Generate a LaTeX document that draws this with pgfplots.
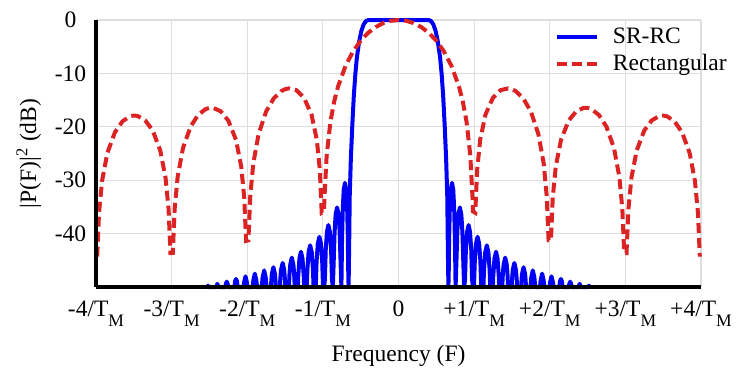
\documentclass[border=0pt]{standalone}
\usepackage{pgfplots}
\pgfplotsset{compat=1.18}
\usepackage{fontspec}
\setmainfont{Liberation Serif}
\definecolor{srblue}{RGB}{0,0,245}
\definecolor{rectred}{RGB}{220,35,35}
\definecolor{gridgray}{RGB}{222,222,222}
\pgfplotsset{
  /pgfplots/layers/mylayers/.define layer set={
    axis background,axis grid,main,axis ticks,axis lines,
    axis tick labels,axis descriptions,axis foreground
  }{/pgfplots/layers/standard},
}
\newcommand{\fs}{\fontsize{11.8}{14}\selectfont}
\newcommand{\TM}{T\raisebox{-5bp}{\fontsize{8.8}{10}\selectfont M}}
\begin{document}
\begin{tikzpicture}
\begin{axis}[
  name=ax,
  set layers=mylayers,
  scale only axis, width=302.5bp, height=133.5bp,
  xmin=-4, xmax=4, ymin=-50, ymax=0,
  clip=false,
  axis lines=left,
  axis line style={-, line width=1.6bp, black},
  grid=major,
  grid style={gridgray, line width=0.6bp},
  major tick length=0pt,
  xtick={-4,-3,-2,-1,0,1,2,3,4},
  xticklabels={{-4/\TM},{-3/\TM},{-2/\TM},{-1/\TM},{0},{+1/\TM},{+2/\TM},{+3/\TM},{+4/\TM}},
  ytick={-40,-30,-20,-10,0},
  yticklabels={-40,-30,-20,-10,0},
  tick label style={font=\fs},
  xticklabel style={yshift=-3.5bp},
  yticklabel style={anchor=center, xshift=-12.75bp},
  label style={font=\fs},
  xlabel style={yshift=-2.5bp},
  xlabel={Frequency (F)},
  ylabel={|P(F)|\textsuperscript{2} (dB)},
  legend style={draw=none, fill=none, at={(0.758,0.98)}, anchor=north west,
    font=\fs, inner sep=0pt, row sep=2bp, column sep=6bp, nodes={inner sep=1bp}},
  legend cell align=left,
  legend image code/.code={\draw[#1] (0bp,0bp) -- (20bp,0bp);},
]
\addplot[srblue, line width=2bp, line join=round] coordinates {
(-2.528,-50) (-2.519,-49.75) (-2.509,-50)
(-2.409,-50) (-2.395,-49.4) (-2.380,-50)
(-2.289,-50) (-2.283,-49.4) (-2.271,-49.0) (-2.259,-49.4) (-2.253,-50)
(-2.170,-50) (-2.160,-48.9) (-2.148,-48.5) (-2.136,-48.9) (-2.126,-50)
(-2.050,-50) (-2.045,-49.3) (-2.023,-48.0) (-2.002,-49.3) (-1.998,-50)
(-1.928,-50) (-1.920,-48.8) (-1.900,-47.5) (-1.879,-48.8) (-1.871,-50)
(-1.808,-50) (-1.797,-48.2) (-1.776,-46.9) (-1.756,-48.2) (-1.745,-50)
(-1.687,-50) (-1.675,-47.6) (-1.654,-46.3) (-1.633,-47.6) (-1.621,-50)
(-1.568,-50) (-1.563,-48.5) (-1.553,-46.8) (-1.532,-45.5) (-1.511,-46.8) (-1.502,-48.5) (-1.496,-50)
(-1.449,-50) (-1.441,-47.5) (-1.431,-45.8) (-1.411,-44.5) (-1.390,-45.8) (-1.380,-47.5) (-1.372,-50)
(-1.331,-50) (-1.326,-48.0) (-1.310,-44.7) (-1.290,-43.4) (-1.269,-44.7) (-1.253,-48.0) (-1.248,-50)
(-1.213,-50) (-1.205,-46.8) (-1.189,-43.5) (-1.168,-42.2) (-1.147,-43.5) (-1.131,-46.8) (-1.123,-50)
(-1.094,-50) (-1.083,-45.2) (-1.067,-41.9) (-1.046,-40.6) (-1.025,-41.9) (-1.009,-45.2) (-0.998,-50)
(-0.985,-50) (-0.973,-48.6) (-0.962,-43.0) (-0.946,-39.7) (-0.927,-38.4) (-0.907,-39.7) (-0.891,-43.0) (-0.880,-48.6)
(-0.868,-50) (-0.857,-45.3) (-0.845,-39.7) (-0.831,-36.4) (-0.812,-35.1) (-0.792,-36.4) (-0.778,-39.7) (-0.766,-45.3)
(-0.755,-50) (-0.746,-40.7) (-0.736,-35.1) (-0.724,-31.8) (-0.708,-30.5) (-0.691,-31.8) (-0.679,-35.1) (-0.670,-40.7) (-0.665,-46.6)
(-0.660,-50) (-0.652,-42.0) (-0.645,-33.0) (-0.630,-26.0) (-0.610,-19.5) (-0.590,-14.0) (-0.570,-10.0) (-0.550,-7.0) (-0.520,-4.0) (-0.490,-2.0) (-0.460,-0.8) (-0.430,-0.2) (-0.400,0)
(0.400,0) (0.430,-0.2) (0.460,-0.8) (0.490,-2.0) (0.520,-4.0) (0.550,-7.0) (0.570,-10.0) (0.590,-14.0) (0.610,-19.5) (0.630,-26.0) (0.645,-33.0) (0.652,-42.0) (0.660,-50)
(0.665,-46.6) (0.670,-40.7) (0.679,-35.1) (0.691,-31.8) (0.708,-30.5) (0.724,-31.8) (0.736,-35.1) (0.746,-40.7) (0.755,-50)
(0.766,-45.3) (0.778,-39.7) (0.792,-36.4) (0.812,-35.1) (0.831,-36.4) (0.845,-39.7) (0.857,-45.3) (0.868,-50)
(0.880,-48.6) (0.891,-43.0) (0.907,-39.7) (0.927,-38.4) (0.946,-39.7) (0.962,-43.0) (0.973,-48.6) (0.985,-50)
(0.998,-50) (1.009,-45.2) (1.025,-41.9) (1.046,-40.6) (1.067,-41.9) (1.083,-45.2) (1.094,-50)
(1.123,-50) (1.131,-46.8) (1.147,-43.5) (1.168,-42.2) (1.189,-43.5) (1.205,-46.8) (1.213,-50)
(1.248,-50) (1.253,-48.0) (1.269,-44.7) (1.290,-43.4) (1.310,-44.7) (1.326,-48.0) (1.331,-50)
(1.372,-50) (1.380,-47.5) (1.390,-45.8) (1.411,-44.5) (1.431,-45.8) (1.441,-47.5) (1.449,-50)
(1.496,-50) (1.502,-48.5) (1.511,-46.8) (1.532,-45.5) (1.553,-46.8) (1.563,-48.5) (1.568,-50)
(1.621,-50) (1.633,-47.6) (1.654,-46.3) (1.675,-47.6) (1.687,-50)
(1.745,-50) (1.756,-48.2) (1.776,-46.9) (1.797,-48.2) (1.808,-50)
(1.871,-50) (1.879,-48.8) (1.900,-47.5) (1.920,-48.8) (1.928,-50)
(1.998,-50) (2.002,-49.3) (2.023,-48.0) (2.045,-49.3) (2.050,-50)
(2.126,-50) (2.136,-48.9) (2.148,-48.5) (2.160,-48.9) (2.170,-50)
(2.253,-50) (2.259,-49.4) (2.271,-49.0) (2.283,-49.4) (2.289,-50)
(2.380,-50) (2.395,-49.4) (2.409,-50)
(2.509,-50) (2.519,-49.75) (2.528,-50)
};
\addlegendentry{SR-RC}
\addplot[rectred, line width=2bp, dash pattern=on 5bp off 2.5bp] coordinates {
(-3.9845,-44.32) (-3.96,-36.10) (-3.92,-30.15) (-3.85,-24.91) (-3.75,-21.03) (-3.65,-18.98) (-3.55,-18.03) (-3.5,-17.89) (-3.45,-17.97) (-3.35,-18.78) (-3.25,-20.69) (-3.15,-24.43) (-3.08,-29.57) (-3.04,-35.47) (-3.0155,-43.65)
(-2.9845,-43.61) (-2.96,-35.36) (-2.92,-29.34) (-2.85,-24.00) (-2.75,-19.98) (-2.65,-17.78) (-2.55,-16.68) (-2.5,-16.46) (-2.45,-16.45) (-2.35,-17.10) (-2.25,-18.84) (-2.15,-22.39) (-2.08,-27.40) (-2.04,-33.23) (-2.0155,-41.36)
(-1.9845,-41.25) (-1.96,-32.95) (-1.92,-26.86) (-1.85,-21.37) (-1.75,-17.12) (-1.65,-14.68) (-1.55,-13.31) (-1.5,-12.96) (-1.45,-12.80) (-1.35,-13.14) (-1.25,-14.54) (-1.15,-17.72) (-1.08,-22.44) (-1.04,-28.08) (-1.0155,-36.10)
(-0.9845,-35.84) (-0.98,-33.59) (-0.95,-25.41) (-0.9,-19.05) (-0.85,-15.23) (-0.8,-12.48) (-0.7,-8.58) (-0.6,-5.86) (-0.5,-3.87) (-0.4,-2.38) (-0.3,-1.31) (-0.2,-0.57) (-0.1,-0.14)
(0,0)
(0.1,-0.14) (0.2,-0.57) (0.3,-1.31) (0.4,-2.38) (0.5,-3.87) (0.6,-5.86) (0.7,-8.58) (0.8,-12.48) (0.85,-15.23) (0.9,-19.05) (0.95,-25.41) (0.98,-33.59) (0.9845,-35.84)
(1.0155,-36.10) (1.04,-28.08) (1.08,-22.44) (1.15,-17.72) (1.25,-14.54) (1.35,-13.14) (1.45,-12.80) (1.5,-12.96) (1.55,-13.31) (1.65,-14.68) (1.75,-17.12) (1.85,-21.37) (1.92,-26.86) (1.96,-32.95) (1.9845,-41.25)
(2.0155,-41.36) (2.04,-33.23) (2.08,-27.40) (2.15,-22.39) (2.25,-18.84) (2.35,-17.10) (2.45,-16.45) (2.5,-16.46) (2.55,-16.68) (2.65,-17.78) (2.75,-19.98) (2.85,-24.00) (2.92,-29.34) (2.96,-35.36) (2.9845,-43.61)
(3.0155,-43.65) (3.04,-35.47) (3.08,-29.57) (3.15,-24.43) (3.25,-20.69) (3.35,-18.78) (3.45,-17.97) (3.5,-17.89) (3.55,-18.03) (3.65,-18.98) (3.75,-21.03) (3.85,-24.91) (3.92,-30.15) (3.96,-36.10) (3.9845,-44.32)
};
\addlegendentry{Rectangular}
\end{axis}
\path[use as bounding box] ([shift={(-48bp,-39bp)}]ax.south west) rectangle ([shift={(327bp,143.5bp)}]ax.south west);
\end{tikzpicture}
\end{document}
